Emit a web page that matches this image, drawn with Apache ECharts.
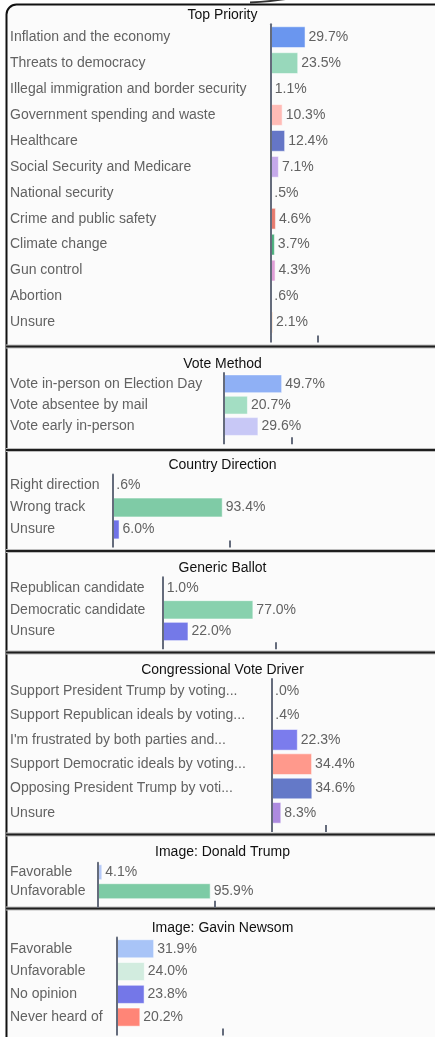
<!DOCTYPE html>
<html><head><meta charset="utf-8">
<script src="https://cdn.jsdelivr.net/npm/echarts@6/dist/echarts.min.js"></script>
<style>html,body{margin:0;padding:0;background:#ffffff}#c{width:435px;height:1037px}</style>
</head><body><div id="c"></div>
<script>
// ---------- DATA ----------
const priorityCats = ['Inflation and the economy','Threats to democracy','Illegal immigration and border security','Government spending and waste','Healthcare','Social Security and Medicare','National security','Crime and public safety','Climate change','Gun control','Abortion','Unsure'];
const priorityVals = [29.7,23.5,1.1,10.3,12.4,7.1,0.5,4.6,3.7,4.3,0.6,2.1];

const methodCats = ['Vote in-person on Election Day','Vote absentee by mail','Vote early in-person'];
const methodVals = [49.7,20.7,29.6];

const directionCats = ['Right direction','Wrong track','Unsure'];
const directionVals = [0.6,93.4,6.0];

const ballotCats = ['Republican candidate','Democratic candidate','Unsure'];
const ballotVals = [1.0,77.0,22.0];

const driverCats = ['Support President Trump by voting...','Support Republican ideals by voting...',"I'm frustrated by both parties and...",'Support Democratic ideals by voting...','Opposing President Trump by voti...','Unsure'];
const driverVals = [0.0,0.4,22.3,34.4,34.6,8.3];

const trumpCats = ['Favorable','Unfavorable'];
const trumpVals = [4.1,95.9];

const newsomCats = ['Favorable','Unfavorable','No opinion','Never heard of'];
const newsomVals = [31.9,24.0,23.8,20.2];

// single unlabeled tick on each panel's value axis
const panelTicks = [40,58,99,96,46,99,90];

// ---------- STYLES ----------
const priorityColors = ['#6a96ef','#98d8bb','#f3b77f','#ffbbb6','#6576c6','#c5a9ea','#9aa6c8','#e77b6f','#4aae7c','#df9ed6','#b0b8d0','#f4a460'];
const methodColors = ['#8fb0f5','#a3dec3','#c8c8f6'];
const directionColors = ['#9db5ee','#7fcba6','#6f72e8'];
const ballotColors = ['#9db5ee','#88d1ae','#7479e8'];
const driverColors = ['#9db5ee','#9db5ee','#7b7ced','#ff998c','#6479c8','#ad8be0'];
const trumpColors = ['#b6c9f6','#7dcba5'];
const newsomColors = ['#a8c4f7','#d2ecdf','#7477e8','#ff8577'];

const FONT = "'Liberation Sans', Arial, sans-serif";
const AXIS = '#656c7c';
const TXT = '#626262';

const panels = [
  {title:'Top Priority', cats:priorityCats, vals:priorityVals, colors:priorityColors, ty:15, x:270.5, top:24.2, bottom:335.4, bw:'84%'},
  {title:'Vote Method', cats:methodCats, vals:methodVals, colors:methodColors, ty:364.5, x:223.5, top:373.1, bottom:437.2, bw:'88%'},
  {title:'Country Direction', cats:directionCats, vals:directionVals, colors:directionColors, ty:465.5, x:112.5, top:474.5, bottom:540.5, bw:'90%'},
  {title:'Generic Ballot', cats:ballotCats, vals:ballotVals, colors:ballotColors, ty:567.8, x:162.5, top:577.3, bottom:642.3, bw:'89%'},
  {title:'Congressional Vote Driver', cats:driverCats, vals:driverVals, colors:driverColors, ty:670.5, x:271.5, top:679, bottom:825, bw:'89%'},
  {title:'Image: Donald Trump', cats:trumpCats, vals:trumpVals, colors:trumpColors, ty:852.2, x:97.5, top:862.7, bottom:900.7, bw:'84%'},
  {title:'Image: Gavin Newsom', cats:newsomCats, vals:newsomVals, colors:newsomColors, ty:928.2, x:116.5, top:937.4, bottom:1028.5, bw:'84%'}
];

const fmt = v => v.toFixed(1).replace(/^0\./, '.') + '%';

const option = {
  animation:false,
  backgroundColor:'#ffffff',
  textStyle:{fontFamily:FONT},
  title:[], grid:[], xAxis:[], yAxis:[], series:[],
  graphic:{elements:[]}
};
const G = option.graphic.elements;

// panel frame
G.push({type:'rect', z:-10, silent:true,
  shape:{x:6.5,y:4.5,width:450,height:1060,r:10},
  style:{fill:'#fbfbfb', stroke:'#111', lineWidth:2}});
G.push({type:'bezierCurve', silent:true,
  shape:{x1:250,y1:2.5,x2:296,y2:-3,cpx1:275,cpy1:1.5},
  style:{fill:null, stroke:'#333', lineWidth:2}});
[346.5,450,551,652.5,834.5,908.5].forEach(y=>{
  G.push({type:'line', silent:true, z:-5,
    shape:{x1:6,y1:y,x2:440,y2:y}, style:{stroke:'#bdbdbd', lineWidth:4}});
  G.push({type:'line', silent:true, z:-4,
    shape:{x1:6,y1:y,x2:440,y2:y}, style:{stroke:'#1e1e1e', lineWidth:2}});
});

panels.forEach((p,i)=>{
  option.title.push({text:p.title, left:222.5, top:p.ty-8, textAlign:'center', padding:0,
    textStyle:{fontFamily:FONT, fontSize:14, fontWeight:'normal', color:'#111', lineHeight:16}});
  option.grid.push({left:p.x, top:p.top, width:118, height:p.bottom-p.top, containLabel:false, outerBoundsMode:'none'});
  option.xAxis.push({type:'value', gridIndex:i, min:0, max:100, z:5,
    axisLine:{show:false}, splitLine:{show:false}, axisLabel:{show:false},
    axisTick:{show:true, customValues:[0, panelTicks[i]], length:7, lineStyle:{color:AXIS, width:2}}});
  option.yAxis.push({type:'category', gridIndex:i, data:p.cats, inverse:true, z:5,
    axisLine:{show:true, lineStyle:{color:AXIS, width:2}}, axisTick:{show:false},
    axisLabel:{align:'left', margin:p.x-10, color:TXT, fontSize:14, fontFamily:FONT}});
  option.series.push({type:'bar', xAxisIndex:i, yAxisIndex:i, barWidth:p.bw, z:2,
    data:p.vals.map((v,j)=>({value:v, itemStyle:{color:p.colors[j]}})),
    itemStyle:{borderColor:'rgba(255,255,255,0.5)', borderWidth:1},
    label:{show:true, position:'right', distance:3, color:TXT, fontSize:14, fontFamily:FONT,
      formatter:(q)=>fmt(q.value)}});
});

const chart = echarts.init(document.getElementById('c'), null, {renderer:'canvas'});
chart.setOption(option);
</script></body></html>
